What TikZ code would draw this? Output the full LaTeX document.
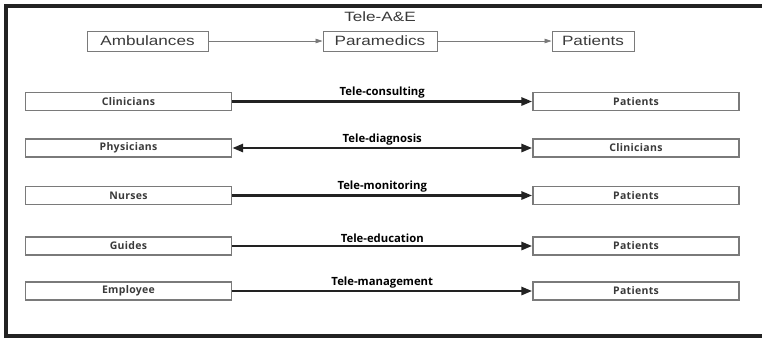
\documentclass[tikz,border=0pt]{standalone}
\usepackage{fontspec}
\usepackage{tikz}
\usetikzlibrary{arrows.meta}
\newfontfamily\topfont[FakeStretch=1.27]{Liberation Sans}
\newfontfamily\rowfont{Open Sans}
\newfontfamily\boxfont[LetterSpace=3]{Open Sans}
\definecolor{framegray}{HTML}{222222}
\definecolor{boxgray}{HTML}{7A7A7A}
\definecolor{txtgray}{HTML}{3A3A3A}
\tikzset{
 topbox/.style={draw=boxgray,line width=.9pt,minimum height=20pt,inner sep=0pt,
  font=\topfont\fontsize{13.5}{14}\selectfont,text=txtgray},
 rowbox/.style={draw=boxgray,line width=1.4pt,minimum width=206pt,minimum height=18pt,inner sep=0pt,
  font=\boxfont\bfseries\fontsize{10.5}{10}\selectfont,text=txtgray},
 toparrow/.style={draw=boxgray,line width=.8pt,-{Triangle[length=7pt,width=4.5pt]}},
 rowarrow/.style={draw=framegray,line width=2.8pt},
 onehead/.style={-{Triangle[length=11pt,width=8pt]}},
 twohead/.style={{Triangle[length=11pt,width=8pt]}-{Triangle[length=11pt,width=8pt]}},
 rowlabel/.style={font=\rowfont\bfseries\fontsize{11.3}{12}\selectfont,text=black,inner sep=1.5pt}
}

\begin{document}
\begin{tikzpicture}[x=1pt,y=-1pt]
 \useasboundingbox (0,0) rectangle (762,341);
 \draw[framegray,line width=4pt] (762,5.5) -- (6,5.5) -- (6,336) -- (762,336);
 % Tele-A&E chain
 \node[font=\topfont\fontsize{13.5}{14}\selectfont,text=txtgray] (title) at (380,17) {Tele-A\&E};
 \node[topbox,minimum width=121pt] (amb) at (147.5,41) {Ambulances};
 \node[topbox,minimum width=114pt] (para) at (380,41) {Paramedics};
 \node[topbox,minimum width=82pt] (pat) at (593,41) {Patients};
 \draw[toparrow] (amb) -- (para);
 \draw[toparrow] (para) -- (pat);
 % services
 \foreach \y/\from/\to/\kind/\tip/\id in
  {101.5/Clinicians/Patients/consulting/onehead/1,148/Physicians/Clinicians/diagnosis/twohead/2,
   195.5/Nurses/Patients/monitoring/onehead/3,246/Guides/Patients/education/onehead/4,
   291/Employee/Patients/management/onehead/5}{
  \node[rowbox] (src\id) at (128.5,\y) {\from};
  \node[rowbox] (dst\id) at (636,\y) {\to};
  \draw[rowarrow,\tip] (src\id) -- (dst\id)
   node[rowlabel,midway,above] {Tele-\kind};}
\end{tikzpicture}
\end{document}
